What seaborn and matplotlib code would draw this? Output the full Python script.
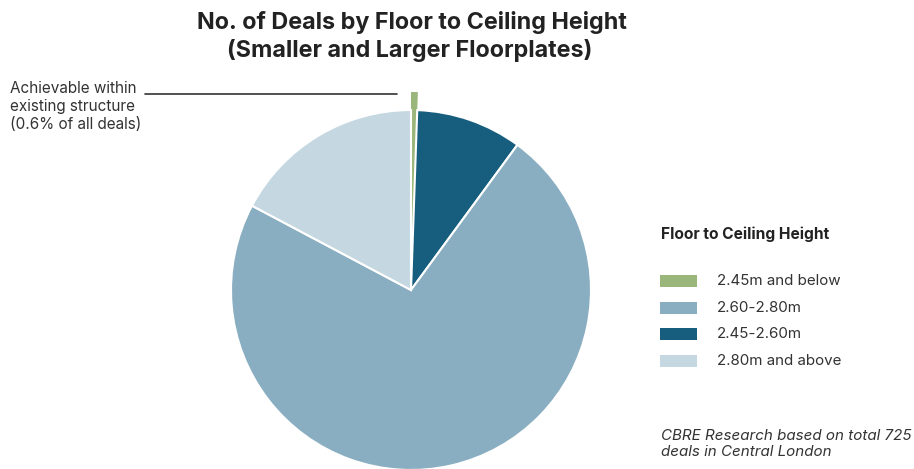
import matplotlib
matplotlib.use("Agg")
import matplotlib.pyplot as plt
from matplotlib.patches import Rectangle
import seaborn as sns

# Data (clockwise from top)
categories = ["2.45m and below", "2.45-2.60m", "2.60-2.80m", "2.80m and above"]
deals = [4, 69, 527, 125]
colors = ["#9bb67a", "#175e7e", "#8aaec1", "#c5d8e1"]
legend_order = ["2.45m and below", "2.60-2.80m", "2.45-2.60m", "2.80m and above"]

sns.set_theme(style="white")
plt.rcParams["font.family"] = ["Inter", "DejaVu Sans"]

W, H = 914, 469
fig = plt.figure(figsize=(W / 100, H / 100), dpi=100)

cx, cy, r = 411, H - 290, 180
half = 1.2 * r
ax = fig.add_axes([(cx - half) / W, (cy - half) / H, 2 * half / W, 2 * half / H])
wedges, _ = ax.pie(deals, colors=colors, startangle=90, counterclock=False,
                   radius=1.0, wedgeprops=dict(edgecolor="white", linewidth=1.5))
wedges[0].set_radius(1.1)
wedges[0].set_edgecolor("none")
for w in wedges:
    w.set_clip_on(False)
ax.set_xlim(-1.2, 1.2)
ax.set_ylim(-1.2, 1.2)
ax.set_aspect("equal")
ax.axis("off")

def fx(x):
    return x / W

def fy(y):
    return 1 - y / H

# Title
fig.text(fx(411.5), fy(23), "No. of Deals by Floor to Ceiling Height", ha="center", va="center",
         fontsize=16.8, fontweight="bold", color="#222222")
fig.text(fx(410), fy(51), "(Smaller and Larger Floorplates)", ha="center", va="center",
         fontsize=16.8, fontweight="bold", color="#222222")

# Annotation
fig.text(fx(10), fy(81), "Achievable within\nexisting structure\n(0.6% of all deals)", ha="left", va="top",
         fontsize=11, color="#333333", linespacing=1.23)
fig.add_artist(plt.Line2D([fx(145), fx(397)], [fy(94), fy(94)], color="#333333", linewidth=1.2))

# Legend
fig.text(fx(661), fy(234), "Floor to Ceiling Height", ha="left", va="center", fontsize=11.2,
         fontweight="bold", color="#222222")
col_of = dict(zip(categories, colors))
ys = [281, 308, 334, 361]
for lab, y in zip(legend_order, ys):
    fig.add_artist(Rectangle((fx(660), fy(y + 6)), 37 / W, 12 / H, transform=fig.transFigure,
                             facecolor=col_of[lab], edgecolor="none"))
    fig.text(fx(717), fy(y), lab, ha="left", va="center", fontsize=10.9, color="#333333")

# Source
fig.text(fx(661), fy(429), "CBRE Research based on total 725\ndeals in Central London", ha="left",
         va="top", fontsize=10.9, fontstyle="italic", color="#333333", linespacing=1.2)

fig.savefig("out.png", dpi=100)
